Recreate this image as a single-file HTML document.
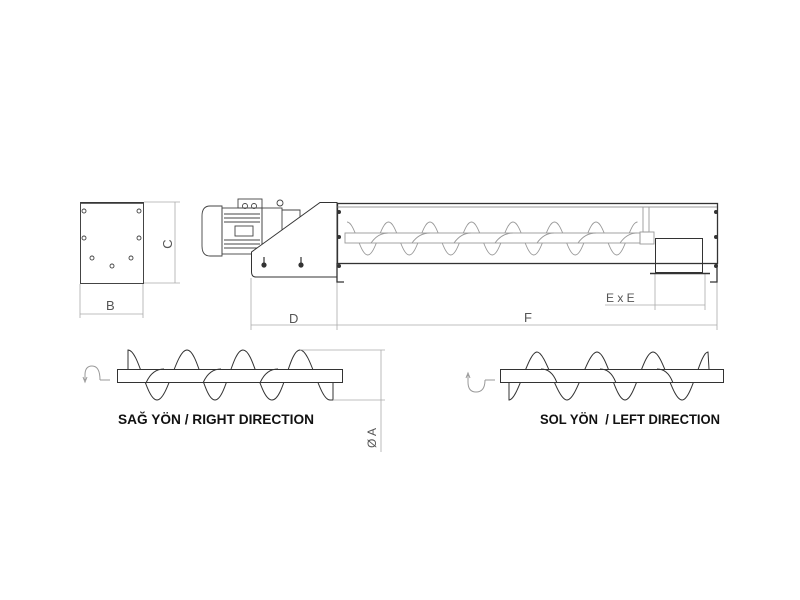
<!DOCTYPE html>
<html><head><meta charset="utf-8"><style>
html,body{margin:0;padding:0;background:#fff;}
svg{display:block}
text{font-family:"Liberation Sans",sans-serif;}
</style></head><body>
<svg width="800" height="600" viewBox="0 0 800 600" xmlns="http://www.w3.org/2000/svg">
<rect width="800" height="600" fill="#fff"/>
<g fill="none" stroke="#333" stroke-width="1">
<!-- left end view -->
<rect x="80.5" y="202.5" width="63" height="81" stroke="#444"/>
<line x1="81" y1="203" x2="143" y2="203" stroke-width="1.5"/>
<g stroke="#444" stroke-width="0.9">
<circle cx="84" cy="211" r="2"/><circle cx="139" cy="211" r="2"/>
<circle cx="84" cy="238" r="2"/><circle cx="139" cy="238" r="2"/>
<circle cx="92" cy="258" r="2"/><circle cx="131" cy="258" r="2"/>
<circle cx="112" cy="266" r="2"/>
</g>
<g stroke="#aaa" stroke-width="0.8">
<line x1="144" y1="202" x2="180" y2="202"/><line x1="144" y1="283" x2="180" y2="283"/>
<line x1="175" y1="202" x2="175" y2="283"/>
<line x1="80" y1="284" x2="80" y2="318"/><line x1="143" y1="284" x2="143" y2="318"/>
<line x1="80" y1="314" x2="143" y2="314"/>
<line x1="251" y1="278" x2="251" y2="330"/><line x1="337" y1="278" x2="337" y2="330"/>
<line x1="717" y1="278" x2="717" y2="330"/>
<line x1="251" y1="325" x2="717" y2="325"/>
<line x1="655" y1="274" x2="655" y2="310"/><line x1="705" y1="274" x2="705" y2="310"/>
<line x1="605" y1="305" x2="705" y2="305"/>
</g>
<!-- motor -->
<g stroke="#444" stroke-width="0.9">
<path d="M222 206 L210 206 Q202 206 202 216 L202 246 Q202 256 210 256 L222 256 Z"/>
<rect x="222" y="208" width="40" height="46"/>
<line x1="224" y1="214" x2="260" y2="214"/><line x1="224" y1="218" x2="260" y2="218"/>
<line x1="224" y1="222" x2="260" y2="222"/><line x1="224" y1="240" x2="260" y2="240"/>
<line x1="224" y1="244" x2="260" y2="244"/><line x1="224" y1="248" x2="260" y2="248"/>
<rect x="235" y="226" width="18" height="10"/>
<rect x="238" y="199" width="24" height="9"/>
<circle cx="245" cy="206" r="2.5"/><circle cx="254" cy="206" r="2.5"/>
<circle cx="280" cy="203" r="3"/>
<rect x="262" y="208" width="20" height="40"/>
<path d="M282 210 L300 210 L300 218"/>
</g>
<!-- side plate -->
<path d="M320 202.5 L337 202.5 L337 277 L256 277 Q251.5 277 251.5 272 L251.5 252 Z" fill="#fff" stroke="#333"/>
<g stroke="#333" stroke-width="1.2">
<line x1="264" y1="257" x2="264" y2="264"/><circle cx="264" cy="265" r="2" fill="#333"/>
<line x1="301" y1="257" x2="301" y2="264"/><circle cx="301" cy="265" r="2" fill="#333"/>
</g>
<!-- trough -->
<rect x="337.5" y="203.5" width="380" height="60" stroke="#333" stroke-width="1.3"/>
<line x1="337" y1="207" x2="717" y2="207" stroke="#777" stroke-width="0.8"/>
<path d="M337 263 L337 282 L344 282" stroke-width="1.3"/>
<path d="M717 263 L717 282 L710 282" stroke-width="1.3"/>
<g fill="#333" stroke="none">
<circle cx="339" cy="212" r="2"/><circle cx="339" cy="237" r="2"/><circle cx="339" cy="266" r="2"/>
<circle cx="716" cy="212" r="2"/><circle cx="716" cy="237" r="2"/><circle cx="716" cy="266" r="2"/>
</g>
<!-- trough screw -->
<g stroke="#999" stroke-width="0.9">
<path d="M347 222 C355 222 359.75 255 367.75 255 S380.5 222 388.5 222 S401.25 255 409.25 255 S422 222 430 222 S442.75 255 450.75 255 S463.5 222 471.5 222 S484.25 255 492.25 255 S505 222 513 222 S525.75 255 533.75 255 S546.5 222 554.5 222 S567.25 255 575.25 255 S588 222 596 222 S608.75 255 616.75 255 S629.5 222 637.5 222"/>
<rect x="345" y="233" width="295" height="10" fill="#fff"/>
<path d="M371 243 Q378 233 388 233 M412 243 Q419 233 430 233 M454 243 Q461 233 471 233 M495 243 Q502 233 513 233 M537 243 Q544 233 554 233 M578 243 Q585 233 596 233 M620 243 Q627 233 637 233"/>
<rect x="640" y="232" width="14" height="12"/><rect x="643" y="207" width="6" height="25"/>
</g>
<rect x="655.5" y="238.5" width="47" height="34" stroke="#333"/>
<line x1="650" y1="273.5" x2="710" y2="273.5" stroke="#333" stroke-width="1.4"/>
<!-- bottom left screw -->
<path d="M128 369 L128 350 C139 350 146 400 157 400 S176 350 187 350 S204 400 215 400 S232 350 243 350 S260 400 272 400 S289 350 300 350 S319 400 330 400 L333 400 L333 383" stroke="#333"/>
<rect x="117.5" y="369.5" width="225" height="13" fill="#fff" stroke="#333"/>
<path d="M146 383 Q152 369 164 369 M203 383 Q209 369 221 369 M260 383 Q266 369 278 369" stroke="#333"/>
<path d="M100 380 L110 380 M100 380 Q100 366 92 366 Q85 366 85 375 L85 380" stroke="#999"/>
<path d="M83 377 L85 382 L87 377" stroke="#999"/>
<g stroke="#aaa" stroke-width="0.8">
<line x1="300" y1="350" x2="385" y2="350"/><line x1="333" y1="400" x2="385" y2="400"/>
<line x1="381" y1="350" x2="381" y2="452"/>
</g>
<!-- bottom right screw -->
<path d="M509 383 L509 400 C518 400 528 352 537 352 S557 400 567 400 S587 352 597 352 S615 400 625 400 S643 352 653 352 S672 400 682 400 S700 352 708 352 L709 369" stroke="#333"/>
<rect x="500.5" y="369.5" width="223" height="13" fill="#fff" stroke="#333"/>
<path d="M541 369 Q552 369 557 383 M600 369 Q611 369 616 383 M657 369 Q668 369 673 383" stroke="#333"/>
<path d="M485 380 L495 380 M485 380 Q485 392 476 392 Q468 392 468 382 L468 375" stroke="#999"/>
<path d="M466 378 L468 373 L470 378" stroke="#999"/>
</g>
<g fill="#555" font-size="13">
<text x="106" y="310">B</text>
<text x="0" y="0" transform="translate(172,244) rotate(-90)" text-anchor="middle">C</text>
<text x="289" y="323">D</text>
<text x="524" y="322">F</text>
<text x="606" y="302" font-size="12">E x E</text>
<text x="0" y="0" transform="translate(376,438) rotate(-90)" text-anchor="middle" font-size="12">Ø A</text>
</g>
<g fill="#111" font-size="13.5" font-weight="bold">
<text x="118" y="424" textLength="196" lengthAdjust="spacingAndGlyphs">SAĞ YÖN / RIGHT DIRECTION</text>
<text x="540" y="424" xml:space="preserve" textLength="180" lengthAdjust="spacingAndGlyphs">SOL YÖN  / LEFT DIRECTION</text>
</g>
</svg>
</body></html>
